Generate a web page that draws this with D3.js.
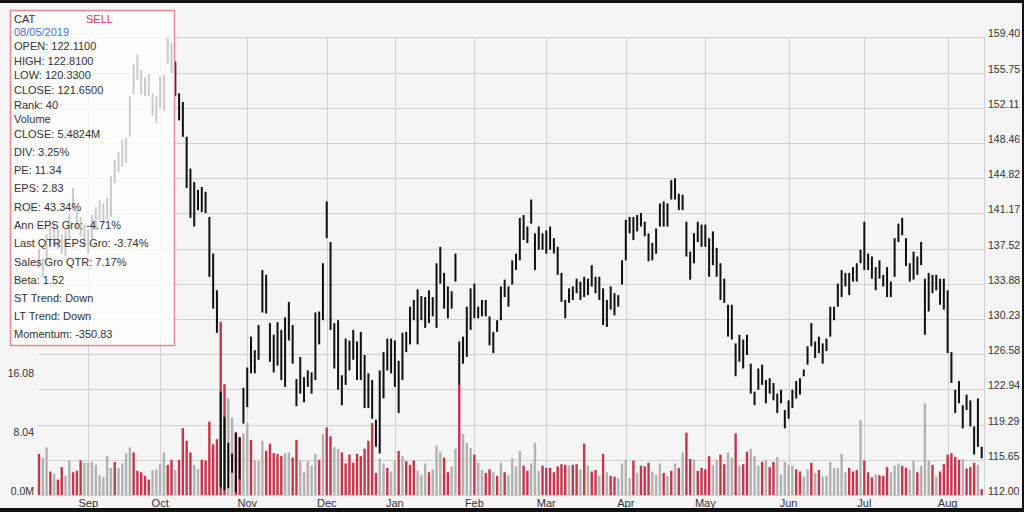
<!DOCTYPE html>
<html><head><meta charset="utf-8">
<script src="https://cdn.jsdelivr.net/npm/d3@7/dist/d3.min.js"></script>
<style>
html,body{margin:0;padding:0;background:#f5f5f5;overflow:hidden}
svg{display:block}
text{font-family:"Liberation Sans",Arial,Helvetica,sans-serif}
</style>
</head><body><svg id="c" width="1024" height="512"></svg>
<script>
// ---------- DATA ----------
const highs = [
137.5,136.5,139.0,140.5,140.0,139.5,139.0,139.5,141.0,143.8,
141.5,140.8,140.0,139.5,141.0,141.8,142.5,142.2,142.8,145.0,
146.7,147.5,148.8,149.0,153.3,156.6,157.6,156.0,155.3,155.6,
153.6,153.3,155.3,155.5,159.4,158.8,156.9,153.6,152.7,149.1,
145.8,144.4,143.6,143.9,143.4,140.8,137.0,133.2,122.7,120.1,
117.4,116.3,118.4,118.0,123.1,125.2,128.4,127.0,129.6,135.3,
134.8,129.8,128.6,129.9,129.1,130.4,132.0,129.6,124.0,126.3,
124.2,124.9,124.7,130.9,131.0,136.0,142.4,138.2,129.8,130.1,
124.4,128.2,128.0,129.1,127.9,128.9,126.5,124.6,123.9,119.8,
124.9,126.8,128.2,128.2,128.0,125.9,128.8,128.9,131.5,132.2,
133.3,132.6,132.5,133.2,132.5,136.0,137.7,135.0,133.6,133.1,
137.0,127.9,128.4,131.5,133.4,133.9,131.5,132.2,132.2,130.5,
128.9,130.1,133.6,134.3,133.6,136.3,137.0,140.7,141.0,139.8,
142.6,139.1,139.8,139.1,139.4,139.8,138.6,137.7,135.0,132.2,
133.4,133.6,134.4,134.1,134.6,134.4,135.8,134.6,134.6,133.4,
132.2,133.6,132.9,132.7,136.3,140.5,140.8,140.8,141.0,141.2,
140.3,139.1,138.1,139.6,142.2,142.4,142.2,144.6,144.8,143.2,
143.1,140.3,137.2,139.1,140.3,140.0,140.0,138.6,139.3,137.6,
136.0,134.4,131.7,131.7,127.7,128.6,128.1,128.6,125.6,122.7,
125.1,125.5,123.9,124.1,123.6,122.5,122.9,120.8,121.8,122.9,
123.8,124.1,125.0,127.4,129.8,127.9,128.4,127.7,128.2,131.5,
131.5,133.9,135.3,135.0,135.0,135.6,136.0,137.4,140.3,137.0,
136.7,135.6,136.3,134.8,135.6,134.1,138.6,140.1,140.7,138.6,
136.0,137.2,136.7,138.2,134.4,135.0,134.8,134.8,134.4,134.4,
133.2,126.8,122.9,123.8,121.3,122.4,121.8,119.1,122.0,117.0];
const lows = [
135.5,134.6,136.5,137.7,137.8,137.5,137.0,136.7,138.5,141.5,
139.6,138.8,138.0,137.0,138.5,139.4,140.5,140.2,140.5,140.8,
144.3,145.4,146.0,146.4,149.1,153.5,155.0,153.5,153.3,153.3,
151.3,150.5,152.0,151.8,156.7,155.7,153.3,150.8,149.1,143.8,
140.7,139.8,141.5,141.3,141.2,134.6,131.3,128.8,112.8,112.5,
112.7,114.3,112.3,113.6,119.4,121.1,124.6,124.6,126.0,130.9,
130.8,125.8,124.7,125.4,123.9,123.2,128.0,125.6,121.2,122.5,
121.6,123.2,122.5,123.9,127.6,130.1,138.6,129.1,125.1,122.9,
121.3,123.4,124.9,126.0,123.9,123.9,121.0,121.0,119.9,117.0,
116.3,122.0,124.9,124.6,123.2,120.5,123.9,126.8,127.6,130.1,
127.6,130.1,129.3,129.8,130.5,129.3,133.9,131.3,130.3,131.3,
134.1,123.4,125.6,126.3,129.1,130.3,130.3,130.5,130.5,127.5,
126.7,128.9,130.1,132.5,131.5,133.8,135.3,136.3,138.4,138.1,
140.1,135.3,137.4,137.4,137.0,137.4,137.0,134.8,132.0,130.3,
131.9,132.2,132.9,132.2,132.5,132.7,133.6,132.9,132.2,129.6,
129.4,131.2,130.6,131.5,133.8,136.3,139.1,138.4,139.3,139.8,
138.8,136.2,136.3,137.0,139.8,139.8,139.8,142.6,142.6,141.5,
141.5,136.7,134.3,136.0,138.2,137.7,137.7,134.6,135.8,134.6,
132.2,131.9,128.4,128.1,124.3,125.8,125.1,126.5,122.5,121.3,
122.9,123.4,121.5,122.5,121.8,120.5,121.5,118.9,119.9,121.0,
122.0,122.4,124.3,125.5,127.4,126.2,126.7,125.6,126.9,128.4,
130.1,131.5,132.5,133.6,132.7,134.1,134.1,136.0,135.3,135.3,
134.4,133.2,134.4,133.6,132.5,132.5,134.6,138.2,138.9,135.7,
134.1,134.3,134.8,135.8,128.6,131.0,132.9,133.2,131.7,131.2,
126.7,123.6,120.5,121.5,118.9,120.8,119.1,116.2,117.0,115.8];
// volume in millions
const volumes = [
5.6,5.1,6.5,3.2,2.9,2.1,3.8,2.6,4.7,3.1,
3.3,4.7,4.4,4.4,4.5,4.1,2.7,2.4,5.3,3.7,
4.5,3.7,4.3,5.7,6.5,5.8,3.3,3.1,2.6,2.1,
3.4,3.5,4.2,5.8,4.1,4.8,3.4,4.8,9.1,7.4,
5.8,4.1,3.5,4.8,4.7,10.0,6.9,7.6,23.6,15.1,
13.2,10.5,8.6,7.8,8.4,9.8,7.5,4.7,4.6,7.4,
6.0,7.0,5.7,5.6,5.3,5.7,5.8,5.1,7.5,4.7,
3.1,4.6,4.0,5.6,4.8,8.3,9.2,8.0,6.5,6.3,
5.8,4.3,5.5,4.4,5.6,5.3,6.3,7.4,9.8,3.0,
5.0,4.3,3.7,3.2,4.7,6.0,5.3,4.6,4.1,4.7,
3.3,2.7,4.3,3.1,3.5,6.7,5.9,5.1,3.1,3.9,
6.3,15.0,8.3,7.1,6.4,5.5,4.4,3.4,3.0,3.5,
3.1,2.6,4.4,3.1,2.7,5.0,3.9,6.0,4.0,3.3,
4.3,7.1,3.3,4.0,3.7,3.7,3.1,3.9,4.2,4.1,
4.0,4.1,4.2,3.5,7.0,4.0,3.2,3.4,2.6,5.6,
3.1,2.6,2.5,2.3,4.3,4.8,2.3,4.7,3.0,4.0,
3.9,4.4,3.2,2.8,4.3,3.0,2.6,3.3,4.3,3.7,
5.8,8.5,4.9,4.8,3.3,3.7,3.5,5.3,4.1,4.7,
5.5,4.2,5.8,5.1,8.4,4.0,4.2,5.9,6.3,5.3,
4.0,4.5,4.8,3.8,4.5,5.2,2.8,4.5,4.1,4.0,
3.5,3.2,2.5,3.5,4.4,3.0,3.4,2.5,2.6,4.5,
3.7,3.7,5.6,3.1,3.7,3.2,3.4,10.2,4.7,3.1,
2.4,2.8,2.7,2.6,3.8,3.1,4.0,4.3,4.0,3.7,
3.4,4.7,3.1,4.0,12.5,4.7,4.1,2.5,3.2,4.2,
5.5,5.7,5.2,4.8,4.9,3.6,3.8,4.4,4.1,0.8];
// r = red (down) volume bar, g = grey (up) volume bar
const volColors = (
"rggrgrrggr"+"rrgggggggg"+"rggggrrrrr"+"ggggrrgrrr"+"rggrrrrrrr"+
"ggrrggrggg"+"rrrrrggrrg"+"ggggrgrrgg"+"rrrrrrrrrr"+"ggrggrgrrr"+
"gggrgggrrg"+"grgggrggrr"+"grgrggggrr"+"gggrrrrrrr"+"grrgrgrrgr"+
"grrggggrgr"+"rrgggrgrgr"+"grrgrrrrgg"+"rrggrgrrgg"+"grgrrggggg"+
"rrggrgrggg"+"ggggrrrgrr"+"rgrrrgggrr"+"ggrgggrgrr"+"rrrrgrrrgr").split("");
const monthLabels = ["Sep","Oct","Nov","Dec","Jan","Feb","Mar","Apr","May","Jun","Jul","Aug"];
const monthStartIndex = [13,32,55,76,94,115,134,155,176,198,218,240];
const priceTicks = [159.40,155.75,152.11,148.46,144.82,141.17,137.52,133.88,130.23,126.58,122.94,119.29,115.65,112.00];
const volumeTicks = [0,8.04,16.08];
const volumeTickLabels = ["0.0M","8.04","16.08"];
const infoLines = ["OPEN: 122.1100","HIGH: 122.8100","LOW: 120.3300","CLOSE: 121.6500","Rank: 40","Volume","CLOSE: 5.4824M","DIV: 3.25%","PE: 11.34","EPS: 2.83","ROE: 43.34%","Ann EPS Gro: -4.71%","Last QTR EPS Gro: -3.74%","Sales Gro QTR: 7.17%","Beta: 1.52","ST Trend: Down","LT Trend: Down","Momentum: -350.83"];
const infoLineY = [50,65,79,94,109,123,138,156,174,192,211,229,247,266,284,302,320,338];

// ---------- LAYOUT ----------
const W = 1024, H = 512;
const plotL = 38, plotR = 984, plotT = 37.3, plotB = 495;
const n = highs.length;
const svg = d3.select("#c");
const x = d3.scaleLinear().domain([0, n - 1]).range([39, 981.7]);
const y = d3.scaleLinear().domain([112, 159.4]).range([plotB, plotT]);
const yv = d3.scaleLinear().domain([0, 16.08]).range([plotB, 377]);

svg.append("rect").attr("width", W).attr("height", H).attr("fill", "#f5f5f5");

// grid
const grid = svg.append("g").attr("stroke", "#d0d0d0").attr("stroke-width", 1);
grid.selectAll("line.h").data(priceTicks).join("line")
  .attr("x1", plotL).attr("x2", plotR)
  .attr("y1", d => Math.round(y(d)) + 0.5).attr("y2", d => Math.round(y(d)) + 0.5);
grid.selectAll("line.v").data(monthStartIndex).join("line")
  .attr("x1", d => Math.round(x(d)) + 0.5).attr("x2", d => Math.round(x(d)) + 0.5)
  .attr("y1", plotT).attr("y2", plotB);
grid.append("line").attr("x1", plotR + 0.5).attr("x2", plotR + 0.5).attr("y1", plotT).attr("y2", plotB);

// volume bars
svg.append("g").selectAll("rect").data(volumes).join("rect")
  .attr("x", (d, i) => x(i) - 1.2).attr("width", 2.4)
  .attr("y", d => yv(d)).attr("height", d => plotB - yv(d))
  .attr("fill", (d, i) => volColors[i] === "r" ? "#c9344b" : "#b2b2b2");

// price bars
svg.append("g").selectAll("rect").data(highs).join("rect")
  .attr("x", (d, i) => x(i) - 1).attr("width", 2)
  .attr("y", d => y(d)).attr("height", (d, i) => Math.max(1, y(lows[i]) - y(d)))
  .attr("fill", "#111");

// right price axis
const ax = svg.append("g").attr("transform", `translate(${plotR},0)`)
  .call(d3.axisRight(y).tickValues(priceTicks).tickFormat(d3.format(".2f")).tickSize(0).tickPadding(4));
ax.select(".domain").remove();
ax.selectAll("text").attr("font-size", 10.5).attr("fill", "#333")
  .attr("font-family", '"Liberation Sans",Arial,sans-serif').attr("dy", "-0.05em");

// left volume axis
const av = svg.append("g").attr("transform", `translate(${plotL - 4},0)`)
  .call(d3.axisLeft(yv).tickValues(volumeTicks).tickFormat((d, i) => volumeTickLabels[i]).tickSize(0).tickPadding(0));
av.select(".domain").remove();
av.selectAll("text").attr("font-size", 10.5).attr("fill", "#333")
  .attr("font-family", '"Liberation Sans",Arial,sans-serif').attr("dy", "-0.05em");

// month labels
svg.append("g").selectAll("text").data(monthStartIndex).join("text")
  .attr("x", d => x(d)).attr("y", 507).attr("text-anchor", "middle")
  .attr("font-size", 11).attr("fill", "#333").text((d, i) => monthLabels[i]);

// info box
svg.append("rect").attr("x", 10.5).attr("y", 10.5).attr("width", 164).attr("height", 335)
  .attr("fill", "#ffffff").attr("fill-opacity", 0.78)
  .attr("stroke", "#e08a96").attr("stroke-width", 1.5);
const info = svg.append("g").attr("font-size", 11).attr("fill", "#333");
info.append("text").attr("x", 14).attr("y", 23).text("CAT");
info.append("text").attr("x", 86).attr("y", 23).attr("fill", "#d63a4f").text("SELL");
info.append("text").attr("x", 14).attr("y", 36).attr("fill", "#4a6fd8").text("08/05/2019");
info.selectAll("text.l").data(infoLines).join("text").attr("class", "l")
  .attr("x", 14).attr("y", (d, i) => infoLineY[i]).text(d => d);

// frame
svg.append("rect").attr("x", 0).attr("y", 0).attr("width", W).attr("height", 3).attr("fill", "#111");
svg.append("rect").attr("x", 0).attr("y", 508).attr("width", W).attr("height", 4).attr("fill", "#111");
svg.append("rect").attr("x", 1022).attr("y", 0).attr("width", 2).attr("height", H).attr("fill", "#111");
</script></body></html>
